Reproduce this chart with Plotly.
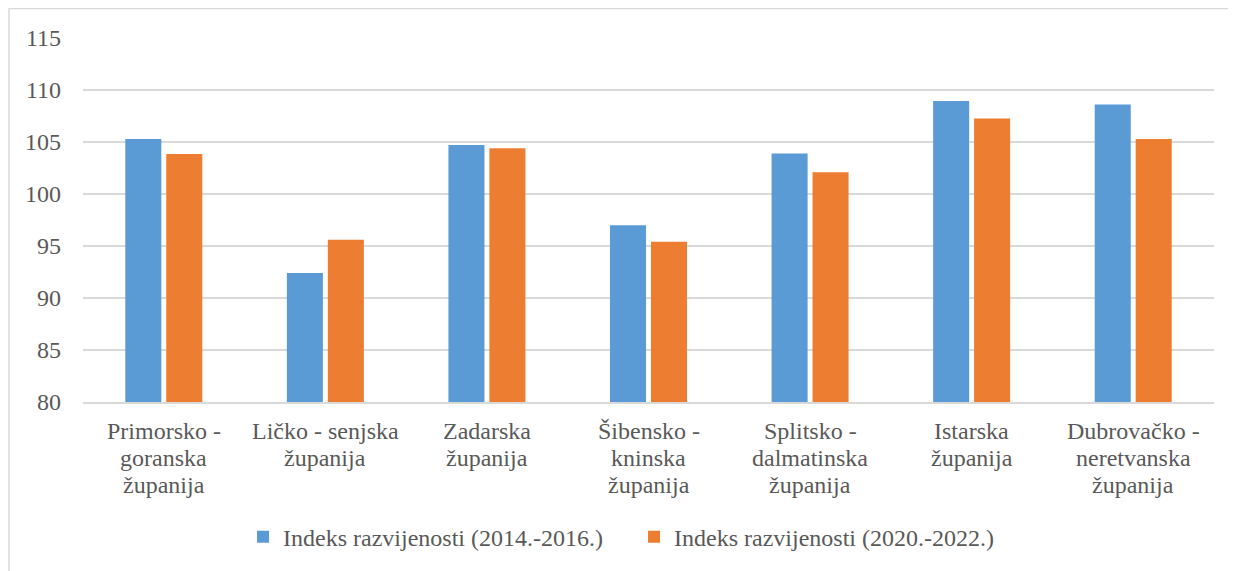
import plotly.graph_objects as go

categories = [
    "Primorsko - goranska županija",
    "Ličko - senjska županija",
    "Zadarska županija",
    "Šibensko - kninska županija",
    "Splitsko - dalmatinska županija",
    "Istarska županija",
    "Dubrovačko - neretvanska županija",
]
# how each category label wraps in the reference
category_lines = [
    ["Primorsko -", "goranska", "županija"],
    ["Ličko - senjska", "županija"],
    ["Zadarska", "županija"],
    ["Šibensko -", "kninska", "županija"],
    ["Splitsko -", "dalmatinska", "županija"],
    ["Istarska", "županija"],
    ["Dubrovačko -", "neretvanska", "županija"],
]
series1_name = "Indeks razvijenosti (2014.-2016.)"
series2_name = "Indeks razvijenosti (2020.-2022.)"
series1 = [105.3, 92.4, 104.7, 97.0, 103.9, 108.95, 108.6]
series2 = [103.85, 95.6, 104.4, 95.4, 102.1, 107.25, 105.3]
y_ticks = [80, 85, 90, 95, 100, 105, 110, 115]

font_family = "Liberation Serif"
text_color = "#595959"
fs = 24

fig = go.Figure()
fig.add_trace(go.Bar(x=categories, y=series1, name=series1_name,
                     marker=dict(color="#5B9BD5", line=dict(width=0))))
fig.add_trace(go.Bar(x=categories, y=series2, name=series2_name,
                     marker=dict(color="#ED7D31", line=dict(width=0))))

fig.update_layout(
    width=1228, height=563,
    margin=dict(l=75, r=22, t=30, b=169, autoexpand=False),
    paper_bgcolor="white", plot_bgcolor="white",
    barmode="group", bargap=0.493, bargroupgap=0.12,
    font=dict(family=font_family, color=text_color, size=fs),
    legend=dict(orientation="h", x=0.1415, xanchor="left",
                y=-0.371, yanchor="middle",
                font=dict(family=font_family, size=fs, color=text_color),
                itemwidth=30, entrywidth=346, traceorder="normal"),
    showlegend=True,
)
fig.update_yaxes(range=[80, 115], tickvals=y_ticks, showgrid=True,
                 gridcolor="#D9D9D9", gridwidth=1.5, zeroline=False,
                 showline=False, ticks="", ticklabelstandoff=21,
                 tickfont=dict(family=font_family, size=fs, color=text_color))
fig.update_xaxes(showline=True, linecolor="#D9D9D9", linewidth=1.5, ticks="",
                 showticklabels=False)

for cat, lines in zip(categories, category_lines):
    for i, line in enumerate(lines):
        fig.add_annotation(x=cat, xref="x", y=0, yref="paper", text=line,
                           showarrow=False, xanchor="center", yanchor="middle",
                           yshift=-(29 + 27 * i),
                           font=dict(family=font_family, size=fs, color=text_color))

fig.add_shape(type="rect", xref="paper", yref="paper",
              x0=-0.0654, x1=1.2, y0=-1.0, y1=1.081,
              line=dict(color="#D9D9D9", width=1.5), fillcolor="rgba(0,0,0,0)",
              layer="below")

fig.write_html("out.html")
